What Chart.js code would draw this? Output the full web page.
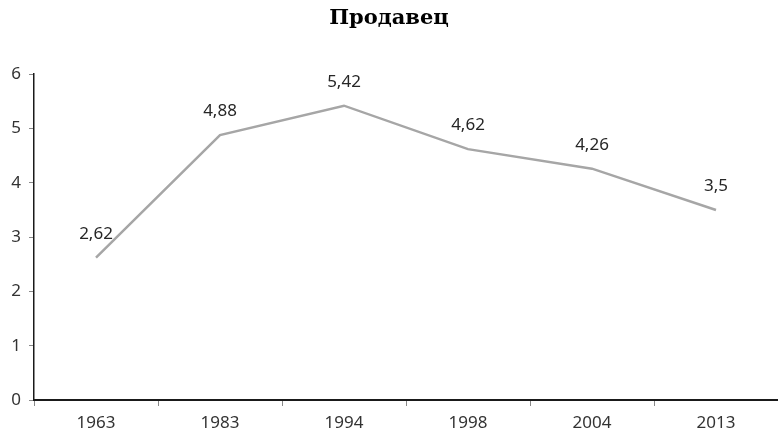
<!DOCTYPE html>
<html>
<head>
<meta charset="utf-8">
<script src="https://cdn.jsdelivr.net/npm/chart.js@4"></script>
<style>
  html, body { margin: 0; padding: 0; background: #fff; }
  #wrap { width: 778px; height: 434px; }
</style>
</head>
<body>
<div id="wrap"><canvas id="chart"></canvas></div>
<script>
// данные графика
const years = ['1963', '1983', '1994', '1998', '2004', '2013'];
const values = [2.62, 4.88, 5.42, 4.62, 4.26, 3.5];
const yTicks = [0, 1, 2, 3, 4, 5, 6];

// подписи значений над точками
const pointLabels = {
  id: 'pointLabels',
  afterDatasetsDraw(chart) {
    const ctx = chart.ctx;
    const meta = chart.getDatasetMeta(0);
    ctx.save();
    ctx.font = '17px "Noto Sans", sans-serif';
    ctx.fillStyle = '#262626';
    ctx.textAlign = 'center';
    ctx.textBaseline = 'middle';
    meta.data.forEach((pt, i) => {
      const txt = String(values[i]).replace('.', ',');
      ctx.fillText(txt, pt.x, pt.y - 24);
    });
    ctx.restore();
  }
};

new Chart(document.getElementById('chart'), {
  type: 'line',
  data: {
    labels: years,
    datasets: [{
      data: values,
      borderColor: '#a6a6a6',
      borderWidth: 2.5,
      pointRadius: 0,
      tension: 0
    }]
  },
  options: {
    responsive: true,
    maintainAspectRatio: false,
    animation: false,
    layout: { padding: { left: 0, right: 0, top: 0, bottom: 0 } },
    plugins: {
      legend: { display: false },
      tooltip: { enabled: false },
      title: {
        display: true,
        text: 'Продавец',
        color: '#000',
        font: { family: '"DejaVu Serif", serif', size: 21, weight: 'bold' },
        padding: { top: 6, bottom: 43 }
      }
    },
    scales: {
      x: {
        offset: true,
        afterFit(scale) { scale.height = 34; },
        grid: {
          display: true,
          drawOnChartArea: false,
          offset: true,
          tickLength: 6,
          color: '#888'
        },
        border: { color: '#1a1a1a', width: 2 },
        ticks: {
          color: '#333',
          font: { family: '"Noto Sans", sans-serif', size: 17 },
          padding: 7,
          maxRotation: 0
        }
      },
      y: {
        min: 0,
        max: 6,
        afterFit(scale) { scale.width = 34; },
        afterBuildTicks(scale) { scale.ticks = yTicks.map(v => ({ value: v })); },
        grid: {
          display: true,
          drawOnChartArea: false,
          tickLength: 5,
          color: '#888'
        },
        border: { color: '#1a1a1a', width: 1.5 },
        ticks: {
          color: '#333',
          font: { family: '"Noto Sans", sans-serif', size: 17 },
          padding: 8
        }
      }
    }
  },
  plugins: [pointLabels]
});
</script>
</body>
</html>
